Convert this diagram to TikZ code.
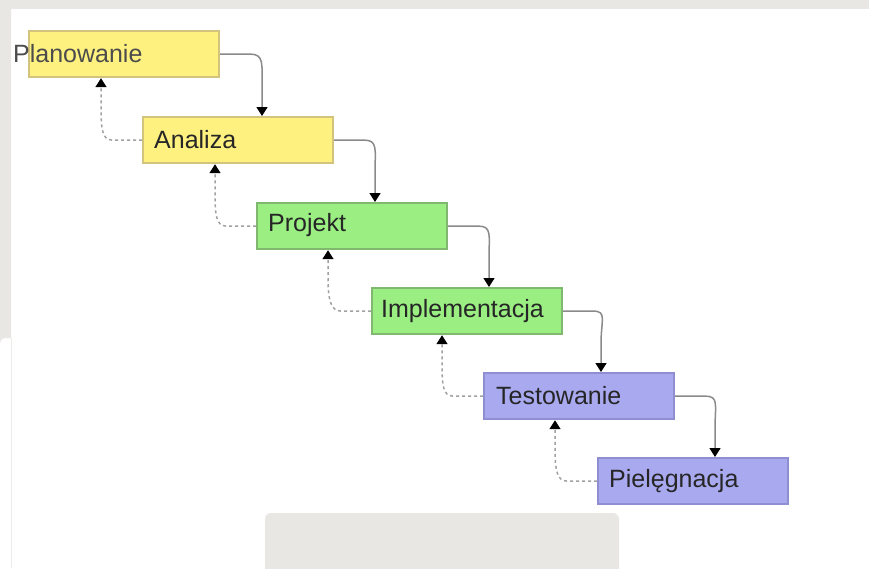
\documentclass[tikz,border=0pt]{standalone}
\usepackage{fontspec}
\setmainfont{Liberation Sans}
\usetikzlibrary{arrows.meta}
\definecolor{bggray}{HTML}{E9E7E4}
\definecolor{yfill}{HTML}{FFF180}
\definecolor{ydraw}{HTML}{D2C47C}
\definecolor{gfill}{HTML}{9AEE82}
\definecolor{gdraw}{HTML}{7FB86E}
\definecolor{bfill}{HTML}{A9A9F0}
\definecolor{bdraw}{HTML}{8E8ED0}
\definecolor{linegray}{HTML}{8A8A8A}
\tikzset{
  stagebox/.style={draw=#1draw, fill=#1fill, line width=2.2pt, minimum width=190pt, minimum height=46pt, inner sep=0pt, anchor=north west},
  stagetext/.style={anchor=west, font=\fontsize{25}{25}\selectfont, text=black!85, inner sep=0pt},
  fwd/.style={draw=linegray, line width=1.5pt, -{Triangle[width=11pt,length=9pt,color=black]}},
  back/.style={draw=linegray!80, line width=1.5pt, dash pattern=on 3pt off 3pt, -{Triangle[width=11pt,length=9pt,color=black]}}
}
\begin{document}
\begin{tikzpicture}[x=1pt,y=-1pt]
\useasboundingbox (0,0) rectangle (869,568);
\fill[white] (0,0) rectangle (869,568);
% background pieces
\fill[bggray] (0,0) rectangle (869,9);
\fill[bggray] (0,0) -- (11,0) -- (11,338) -- (5,338) arc[start angle=-90,end angle=-180,radius=5] -- cycle;
\draw[bggray!80, line width=1pt] (11.5,338) -- (11.5,568);
\fill[bggray, rounded corners=6pt] (265,513) rectangle (619,580);
% boxes
\node[stagebox=y] (P) at (28,30) {};
\node[stagebox=y] (A) at (142,116) {};
\node[stagebox=g] (Pr) at (256,202) {};
\node[stagebox=g] (I) at (371,287) {};
\node[stagebox=b] (T) at (483,372) {};
\node[stagebox=b] (Pi) at (597,457) {};
% labels
\node[stagetext, text=black!70] (tP) at (13,54) {Planowanie};
\node[stagetext] (tA) at (154,140) {Analiza};
\node[stagetext] (tPr) at (268,225) {Projekt};
\node[stagetext] (tI) at (381,311) {Implementacja};
\node[stagetext] (tT) at (496,396) {Testowanie};
\node[stagetext] (tPi) at (609,481) {Pielęgnacja};
% forward connector targets
\coordinate (inA) at ([xshift=120pt]A.north west);
\coordinate (inPr) at ([xshift=119pt]Pr.north west);
\coordinate (inI) at ([xshift=118pt]I.north west);
\coordinate (inT) at ([xshift=118pt]T.north west);
\coordinate (inPi) at ([xshift=118pt]Pi.north west);
% backward connector targets
\coordinate (bP) at ([xshift=73pt]P.south west);
\coordinate (bA) at ([xshift=73pt]A.south west);
\coordinate (bPr) at ([xshift=72pt]Pr.south west);
\coordinate (bI) at ([xshift=71pt]I.south west);
\coordinate (bT) at ([xshift=72pt]T.south west);
% forward connectors
\foreach \s/\t in {P/inA, A/inPr, Pr/inI, I/inT, T/inPi}{
  \draw[fwd] (\s.east) -- ++(30,0) .. controls +(14,0) and +(0,-24) .. ([yshift=28pt]\t) -- (\t);
}
% backward connectors
\foreach \s/\t in {A/bP, Pr/bA, I/bPr, T/bI, Pi/bT}{
  \draw[back] (\s.west) -- ++(-30,0) .. controls +(-10,0) and +(0,22) .. ([yshift=-28pt]\t) -- (\t);
}
\end{tikzpicture}
\end{document}
